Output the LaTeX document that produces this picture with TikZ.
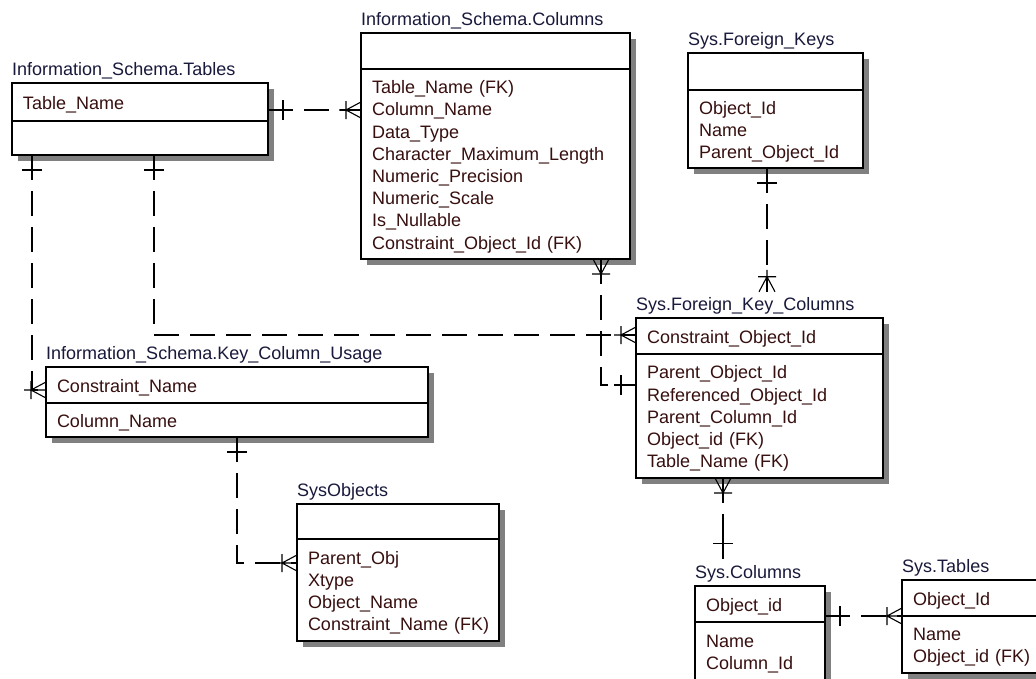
\documentclass[tikz,border=0pt]{standalone}
\usepackage{fontspec}
\setmainfont{Liberation Sans}
\usetikzlibrary{shadows}
\definecolor{titletext}{RGB}{25,25,60}
\definecolor{attrtext}{RGB}{55,15,15}
\definecolor{shadowgray}{RGB}{128,128,128}
\tikzset{
  ent/.style={draw, line width=1.1pt, fill=white, anchor=north west, outer sep=0pt,
    inner xsep=11pt, inner ysep=0pt, align=left, text=attrtext,
    font=\fontsize{18}{22.2}\selectfont, execute at begin node={\rule{0pt}{18.5pt}},
    general shadow={fill=shadowgray, shadow xshift=6pt, shadow yshift=-6pt}},
  ttl/.style={anchor=base west, inner sep=0pt, text=titletext,
    font=\fontsize{18}{22.2}\selectfont},
  rel/.style={line width=1.1pt, dash pattern=on 25pt off 11pt},
  erone/.pic={\draw[solid, line width=1.1pt] (0,0) -- (22,0) (15,-10) -- (15,10);},
  ermany/.pic={\draw[solid, line width=1.1pt] (0,0) -- (22,0) (15,-9) -- (15,9)
    (0,-8) -- (15,0) -- (0,8);}
}
\begin{document}
\begin{tikzpicture}[x=1pt, y=-1pt]
  \useasboundingbox[fill=white] (0,0) rectangle (1036,678);
  \clip (0,0) rectangle (1036,678);

  \node[ent, text width=234pt, minimum height=38pt] (tbl-key) at (12,83) {Table\_Name};
  \node[ent, text width=234pt, minimum height=34pt] (tbl-att) at (tbl-key.south west) {};
  \node[ttl] (tbl-ttl) at ([yshift=8pt]tbl-key.north west) {Information\_Schema.Tables};

  \node[ent, text width=247pt, minimum height=36pt] (col-key) at (361,33) {};
  \node[ent, text width=247pt, minimum height=190pt] (col-att) at (col-key.south west)
    {Table\_Name~(FK)\\Column\_Name\\Data\_Type\\Character\_Maximum\_Length\\
     Numeric\_Precision\\Numeric\_Scale\\Is\_Nullable\\Constraint\_Object\_Id~(FK)};
  \node[ttl] (col-ttl) at ([yshift=8pt]col-key.north west) {Information\_Schema.Columns};

  \node[ent, text width=153pt, minimum height=37pt] (fk-key) at (688,53) {};
  \node[ent, text width=153pt, minimum height=78pt] (fk-att) at (fk-key.south west)
    {Object\_Id\\Name\\Parent\_Object\_Id};
  \node[ttl] (fk-ttl) at ([yshift=8pt]fk-key.north west) {Sys.Foreign\_Keys};

  \node[ent, text width=225pt, minimum height=36pt] (fkc-key) at (636,318) {Constraint\_Object\_Id};
  \node[ent, text width=225pt, minimum height=124pt] (fkc-att) at (fkc-key.south west)
    {Parent\_Object\_Id\\Referenced\_Object\_Id\\Parent\_Column\_Id\\Object\_id~(FK)\\Table\_Name~(FK)};
  \node[ttl] (fkc-ttl) at ([yshift=8pt]fkc-key.north west) {Sys.Foreign\_Key\_Columns};

  \node[ent, text width=360pt, minimum height=36pt] (kcu-key) at (46,367) {Constraint\_Name};
  \node[ent, text width=360pt, minimum height=34pt] (kcu-att) at (kcu-key.south west) {Column\_Name};
  \node[ttl] (kcu-ttl) at ([yshift=8pt]kcu-key.north west) {Information\_Schema.Key\_Column\_Usage};

  \node[ent, text width=180pt, minimum height=35pt] (so-key) at (297,504) {};
  \node[ent, text width=180pt, minimum height=102pt] (so-att) at (so-key.south west)
    {Parent\_Obj\\Xtype\\Object\_Name\\Constraint\_Name~(FK)};
  \node[ttl] (so-ttl) at ([yshift=8pt]so-key.north west) {SysObjects};

  \node[ent, text width=108pt, minimum height=36pt] (sc-key) at (695,586) {Object\_id};
  \node[ent, text width=108pt, minimum height=58pt] (sc-att) at (sc-key.south west)
    {Name\\Column\_Id};
  \node[ttl] (sc-ttl) at ([yshift=8pt]sc-key.north west) {Sys.Columns};

  \node[ent, text width=128pt, minimum height=36pt] (st-key) at (902,580) {Object\_Id};
  \node[ent, text width=128pt, minimum height=57pt] (st-att) at (st-key.south west)
    {Name\\Object\_id~(FK)};
  \node[ttl] (st-ttl) at ([yshift=8pt]st-key.north west) {Sys.Tables};

  \coordinate (fkc-cap) at ([yshift=5pt]fkc-ttl.north);
  \coordinate (sc-cap) at ([yshift=6pt]sc-ttl.north);

  \draw[rel] (tbl-key.east |- 0,110) -- (col-att.west |- 0,110);
  \pic at (tbl-key.east |- 0,110) {erone};
  \pic[rotate=180] at (col-att.west |- 0,110) {ermany};

  \draw[rel] (32,0 |- tbl-att.south) |- (kcu-key.west |- 0,390);
  \pic[rotate=-90] at (32,0 |- tbl-att.south) {erone};
  \pic[rotate=180] at (kcu-key.west |- 0,390) {ermany};

  \draw[rel] (154,0 |- tbl-att.south) |- (fkc-key.west |- 0,335);
  \pic[rotate=-90] at (154,0 |- tbl-att.south) {erone};
  \pic[rotate=180] at (fkc-key.west |- 0,335) {ermany};

  \draw[rel] (601,0 |- col-att.south) |- (fkc-att.west |- 0,385);
  \pic[rotate=-90] at (601,0 |- col-att.south) {ermany};
  \pic[rotate=180] at (fkc-att.west |- 0,385) {erone};

  \draw[rel] (767,0 |- fk-att.south) -- (767,0 |- fkc-cap);
  \pic[rotate=-90] at (767,0 |- fk-att.south) {erone};
  \pic[rotate=90] at (767,0 |- fkc-cap) {ermany};

  \draw[rel] (237,0 |- kcu-att.south) |- (so-att.west |- 0,563);
  \pic[rotate=-90] at (237,0 |- kcu-att.south) {erone};
  \pic[rotate=180] at (so-att.west |- 0,563) {ermany};

  \draw[rel] (723,0 |- fkc-att.south) -- (723,0 |- sc-cap);
  \pic[rotate=-90] at (723,0 |- fkc-att.south) {ermany};
  \pic[rotate=90] at (723,0 |- sc-cap) {erone};

  \draw[rel] (sc-key.east |- 0,616) -- (st-key.west |- 0,616);
  \pic at (sc-key.east |- 0,616) {erone};
  \pic[rotate=180] at (st-key.west |- 0,616) {ermany};
\end{tikzpicture}
\end{document}
